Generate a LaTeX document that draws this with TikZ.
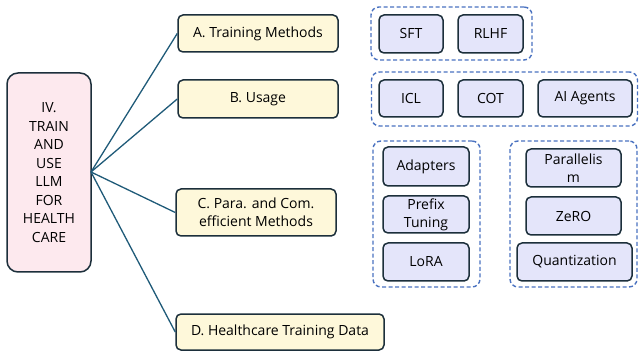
\documentclass[tikz,border=0pt]{standalone}
\usepackage{fontspec}
\setmainfont{Open Sans}
\definecolor{edge}{HTML}{1C2F3B}
\definecolor{conn}{HTML}{1F5A78}
\definecolor{dashc}{HTML}{4A72C0}
\definecolor{pinkf}{HTML}{FDE9EE}
\definecolor{creamf}{HTML}{FEF8DA}
\definecolor{bluef}{HTML}{E4E5FA}
\begin{document}
\begin{tikzpicture}[x=1pt,y=-1pt,
  base/.style={draw=edge,line width=1.5pt,align=center,inner sep=0pt,font=\fontsize{14}{18.5}\selectfont,text=black},
  rootbox/.style={base,fill=pinkf,rounded corners=11pt},
  catbox/.style={base,fill=creamf,rounded corners=5pt},
  itembox/.style={base,fill=bluef,rounded corners=5pt},
  groupbox/.style={draw=dashc,line width=1.4pt,dash pattern=on 4pt off 2.5pt,rounded corners=8pt,inner sep=0pt},
  link/.style={draw=conn,line width=1.3pt}]
\useasboundingbox (0,0) rectangle (639,352);
% groups
\node[groupbox,minimum width=161pt,minimum height=53pt] (g1) at (451.5,33.5) {};
\node[groupbox,minimum width=266pt,minimum height=54pt] (g2) at (504.5,99) {};
\node[groupbox,minimum width=107pt,minimum height=146pt] (g3) at (426.5,214) {};
\node[groupbox,minimum width=127pt,minimum height=146pt] (g4) at (573.5,214) {};
% root
\node[rootbox,minimum width=84pt,minimum height=199pt] (root) at (49,172.5) {IV.\\TRAIN\\AND\\USE\\LLM\\FOR\\HEALTH\\CARE};
% categories
\node[catbox,minimum width=160pt,minimum height=37pt] (A) at (258,33.5) {A. Training Methods};
\node[catbox,minimum width=160pt,minimum height=38pt] (B) at (258,99) {B. Usage};
\node[catbox,minimum width=160pt,minimum height=47pt] (C) at (256,212.5) {C. Para. and Com.\\efficient Methods};
\node[catbox,minimum width=208pt,minimum height=36pt] (D) at (280,332) {D. Healthcare Training Data};
% items
\node[itembox,minimum width=64pt,minimum height=38pt] (sft) at (411,34) {SFT};
\node[itembox,minimum width=65pt,minimum height=38pt] (rlhf) at (490.5,34) {RLHF};
\node[itembox,minimum width=64pt,minimum height=37pt] (icl) at (411,98.5) {ICL};
\node[itembox,minimum width=65pt,minimum height=37pt] (cot) at (490.5,98.5) {COT};
\node[itembox,minimum width=94pt,minimum height=37pt] (agents) at (585,98.5) {AI Agents};
\node[itembox,minimum width=86pt,minimum height=39pt] (adapt) at (426,166.5) {Adapters};
\node[itembox,minimum width=86pt,minimum height=37pt,font=\fontsize{14}{18}\selectfont] (prefix) at (426,214.5) {Prefix\\Tuning};
\node[itembox,minimum width=86pt,minimum height=38pt] (lora) at (426,262) {LoRA};
\node[itembox,minimum width=95pt,minimum height=38pt,font=\fontsize{14}{18}\selectfont] (par) at (573.5,168) {Parallelis\\m};
\node[itembox,minimum width=95pt,minimum height=38pt] (zero) at (573.5,216) {ZeRO};
\node[itembox,minimum width=115pt,minimum height=38pt] (quant) at (574.5,262) {Quantization};
% connectors
\coordinate (hub) at (91,172);
\draw[link] (hub) -- (A.west);
\draw[link] (hub) -- (B.west);
\draw[link] (hub) -- (C.west);
\draw[link] (hub) -- (D.west);
\end{tikzpicture}
\end{document}
